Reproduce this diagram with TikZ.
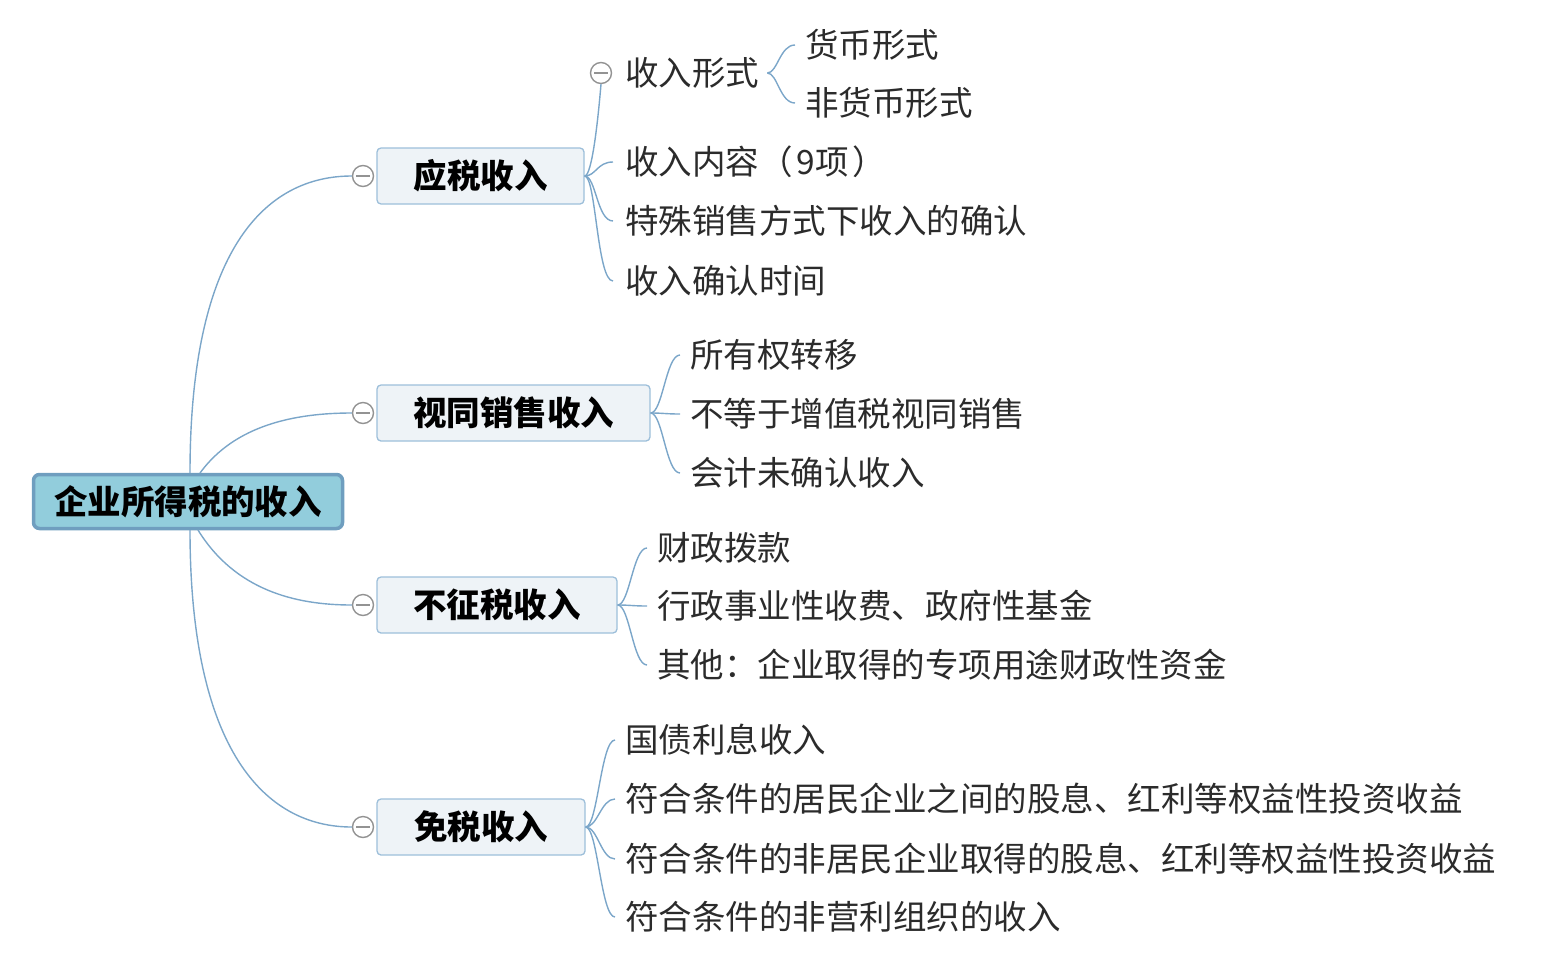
\documentclass[tikz,border=0pt]{standalone}
\usepackage{fontspec}
\setmainfont{Noto Sans CJK SC}
\newfontfamily\cjk{Noto Sans CJK SC}
\definecolor{link}{HTML}{7BA6C9}
\definecolor{rootfill}{HTML}{92CDDC}
\definecolor{rootline}{HTML}{6F9EBF}
\definecolor{boxfill}{HTML}{EEF3F7}
\definecolor{boxline}{HTML}{9DBFDA}
\definecolor{leafc}{HTML}{2B2B2B}
\definecolor{knob}{HTML}{939393}
\begin{document}
\begin{tikzpicture}[x=1pt,y=-1pt,
  txt/.style={font=\cjk\fontsize{33.5}{36}\selectfont},
  rootbox/.style={txt,font=\cjk\bfseries\fontsize{33.5}{36}\selectfont,draw=rootline,line width=3.5pt,fill=rootfill,rounded corners=6pt,minimum width=309pt,minimum height=54pt,inner sep=0pt},
  topicbox/.style={txt,font=\cjk\bfseries\fontsize{33.5}{36}\selectfont,draw=boxline,line width=1.3pt,fill=boxfill,rounded corners=4pt,minimum height=56pt,inner sep=0pt},
  leaf/.style={txt,text=leafc,anchor=west,inner sep=0pt},
  conn/.style={draw=link,line width=1.4pt},
  knobc/.style={circle,draw=knob,fill=white,line width=1.4pt,minimum size=21pt,inner sep=0pt,
    path picture={\draw[knob,line width=1.4pt] ([xshift=-7pt]path picture bounding box.center) -- ([xshift=7pt]path picture bounding box.center);}}
]
\useasboundingbox (0,0) rectangle (1548,959);

% root
\node[rootbox] (root) at (188,501.5) {企业所得税的收入};

% topics
\node[topicbox,minimum width=207pt] (t1) at (480.5,176) {应税收入};
\node[topicbox,minimum width=273pt] (t2) at (513.5,413) {视同销售收入};
\node[topicbox,minimum width=240pt] (t3) at (497,605) {不征税收入};
\node[topicbox,minimum width=208pt] (t4) at (481,827) {免税收入};

% knobs
\node[knobc] (k1) at (363,176) {};
\node[knobc] (k2) at (363,413) {};
\node[knobc] (k3) at (363,605) {};
\node[knobc] (k4) at (363,827) {};

% root connectors
\coordinate (r1) at (190,473);
\coordinate (r2) at (200,473);
\coordinate (r3) at (198,530);
\coordinate (r4) at (190,530);
\draw[conn] (r1) .. controls (190,250) and (265,176) .. (k1.west);
\draw[conn] (r2) .. controls (235,425) and (295,413) .. (k2.west);
\draw[conn] (r3) .. controls (235,590) and (295,605) .. (k3.west);
\draw[conn] (r4) .. controls (190,750) and (265,827) .. (k4.west);

% t1 children
\node[knobc] (k11) at (601,73) {};
\node[leaf] (a1) at (625,73) {收入形式};
\node[leaf] (a2) at (625,162) {收入内容（\hspace{4pt}9项\hspace{4pt}）};
\node[leaf] (a3) at (625,221) {特殊销售方式下收入的确认};
\node[leaf] (a4) at (625,281) {收入确认时间};
\node[leaf] (a11) at (805,45) {货币形式};
\node[leaf] (a12) at (805,103) {非货币形式};

\draw[conn] (t1.east) .. controls (592,176) and (598,120) .. (k11.south);
\foreach \n/\y in {a2/162,a3/221,a4/281}{
  \draw[conn] (t1.east) .. controls (596,176) and (597,\y) .. ([xshift=-12pt]\n.west);
}
\foreach \n in {a11,a12}{
  \draw[conn] ([xshift=8pt]a1.east) .. controls ([xshift=18pt]a1.east) and ([xshift=-25pt]\n.west) .. ([xshift=-10pt]\n.west);
}

% t2 children
\node[leaf] (b1) at (690,355) {所有权转移};
\node[leaf] (b2) at (690,414) {不等于增值税视同销售};
\node[leaf] (b3) at (690,473) {会计未确认收入};
\foreach \n in {b1,b2,b3}{
  \draw[conn] (t2.east) .. controls ([xshift=12pt]t2.east) and ([xshift=-24pt]\n.west) .. ([xshift=-10pt]\n.west);
}

% t3 children
\node[leaf] (c1) at (657,548) {财政拨款};
\node[leaf] (c2) at (657,606) {行政事业性收费、政府性基金};
\node[leaf] (c3) at (657,665) {其他：企业取得的专项用途财政性资金};
\foreach \n in {c1,c2,c3}{
  \draw[conn] (t3.east) .. controls ([xshift=12pt]t3.east) and ([xshift=-24pt]\n.west) .. ([xshift=-10pt]\n.west);
}

% t4 children
\node[leaf] (d1) at (625,740) {国债利息收入};
\node[leaf] (d2) at (625,799) {符合条件的居民企业之间的股息、红利等权益性投资收益};
\node[leaf] (d3) at (625,859) {符合条件的非居民企业取得的股息、红利等权益性投资收益};
\node[leaf] (d4) at (625,917) {符合条件的非营利组织的收入};
\foreach \n in {d1,d2,d3,d4}{
  \draw[conn] (t4.east) .. controls ([xshift=12pt]t4.east) and ([xshift=-24pt]\n.west) .. ([xshift=-10pt]\n.west);
}
\end{tikzpicture}
\end{document}
